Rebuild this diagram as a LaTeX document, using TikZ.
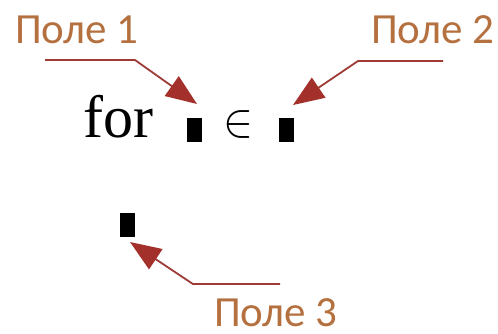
\documentclass[tikz,border=0pt]{standalone}
\usepackage{fontspec}
\setmainfont{Liberation Serif}
\newfontfamily\lblfont{Carlito}
\usetikzlibrary{arrows.meta}
\definecolor{lblcol}{HTML}{B5703F}
\definecolor{arrcol}{HTML}{9E3B37}
\definecolor{tipcol}{HTML}{A3302B}
\tikzset{
  fieldlbl/.style={text=lblcol, font=\lblfont\fontsize{43}{46}\selectfont, inner sep=0pt, anchor=base west},
  fieldbox/.style={fill=black, minimum width=15pt, minimum height=24pt, inner sep=0pt},
  pointer/.style={draw=arrcol, line width=1.8pt, -{Triangle[length=31pt,width=24pt,color=tipcol]}},
}
\begin{document}
\begin{tikzpicture}[x=1pt,y=-1pt]
\useasboundingbox (0,0) rectangle (498,333);
% the expression
\node[anchor=base west, inner sep=0pt, font=\fontsize{60}{70}\selectfont] (kw) at (83,137) {for};
\node[fieldbox] (f1) at (194,130) {};
\node[anchor=center, inner sep=0pt] (in) at (238,124) {\scalebox{4.5}[4.8]{$\in$}};
\node[fieldbox] (f2) at (286,130) {};
\node[fieldbox] (f3) at (127,225) {};
% labels
\node[fieldlbl] (l1) at (15,43) {Поле 1};
\node[fieldlbl] (l2) at (371,43) {Поле 2};
\node[fieldlbl] (l3) at (214,326) {Поле 3};
% pointer bends
\coordinate (s1) at (45,60);
\coordinate (b1) at (135,60);
\coordinate (t1) at (197,104);
\coordinate (s2) at (443,61);
\coordinate (b2) at (358,61);
\coordinate (t2) at (293,105);
\coordinate (s3) at (280,284);
\coordinate (b3) at (193,284);
\coordinate (t3) at (130,242);
\draw[pointer] (s1) -- (b1) -- (t1);
\draw[pointer] (s2) -- (b2) -- (t2);
\draw[pointer] (s3) -- (b3) -- (t3);
\end{tikzpicture}
\end{document}
